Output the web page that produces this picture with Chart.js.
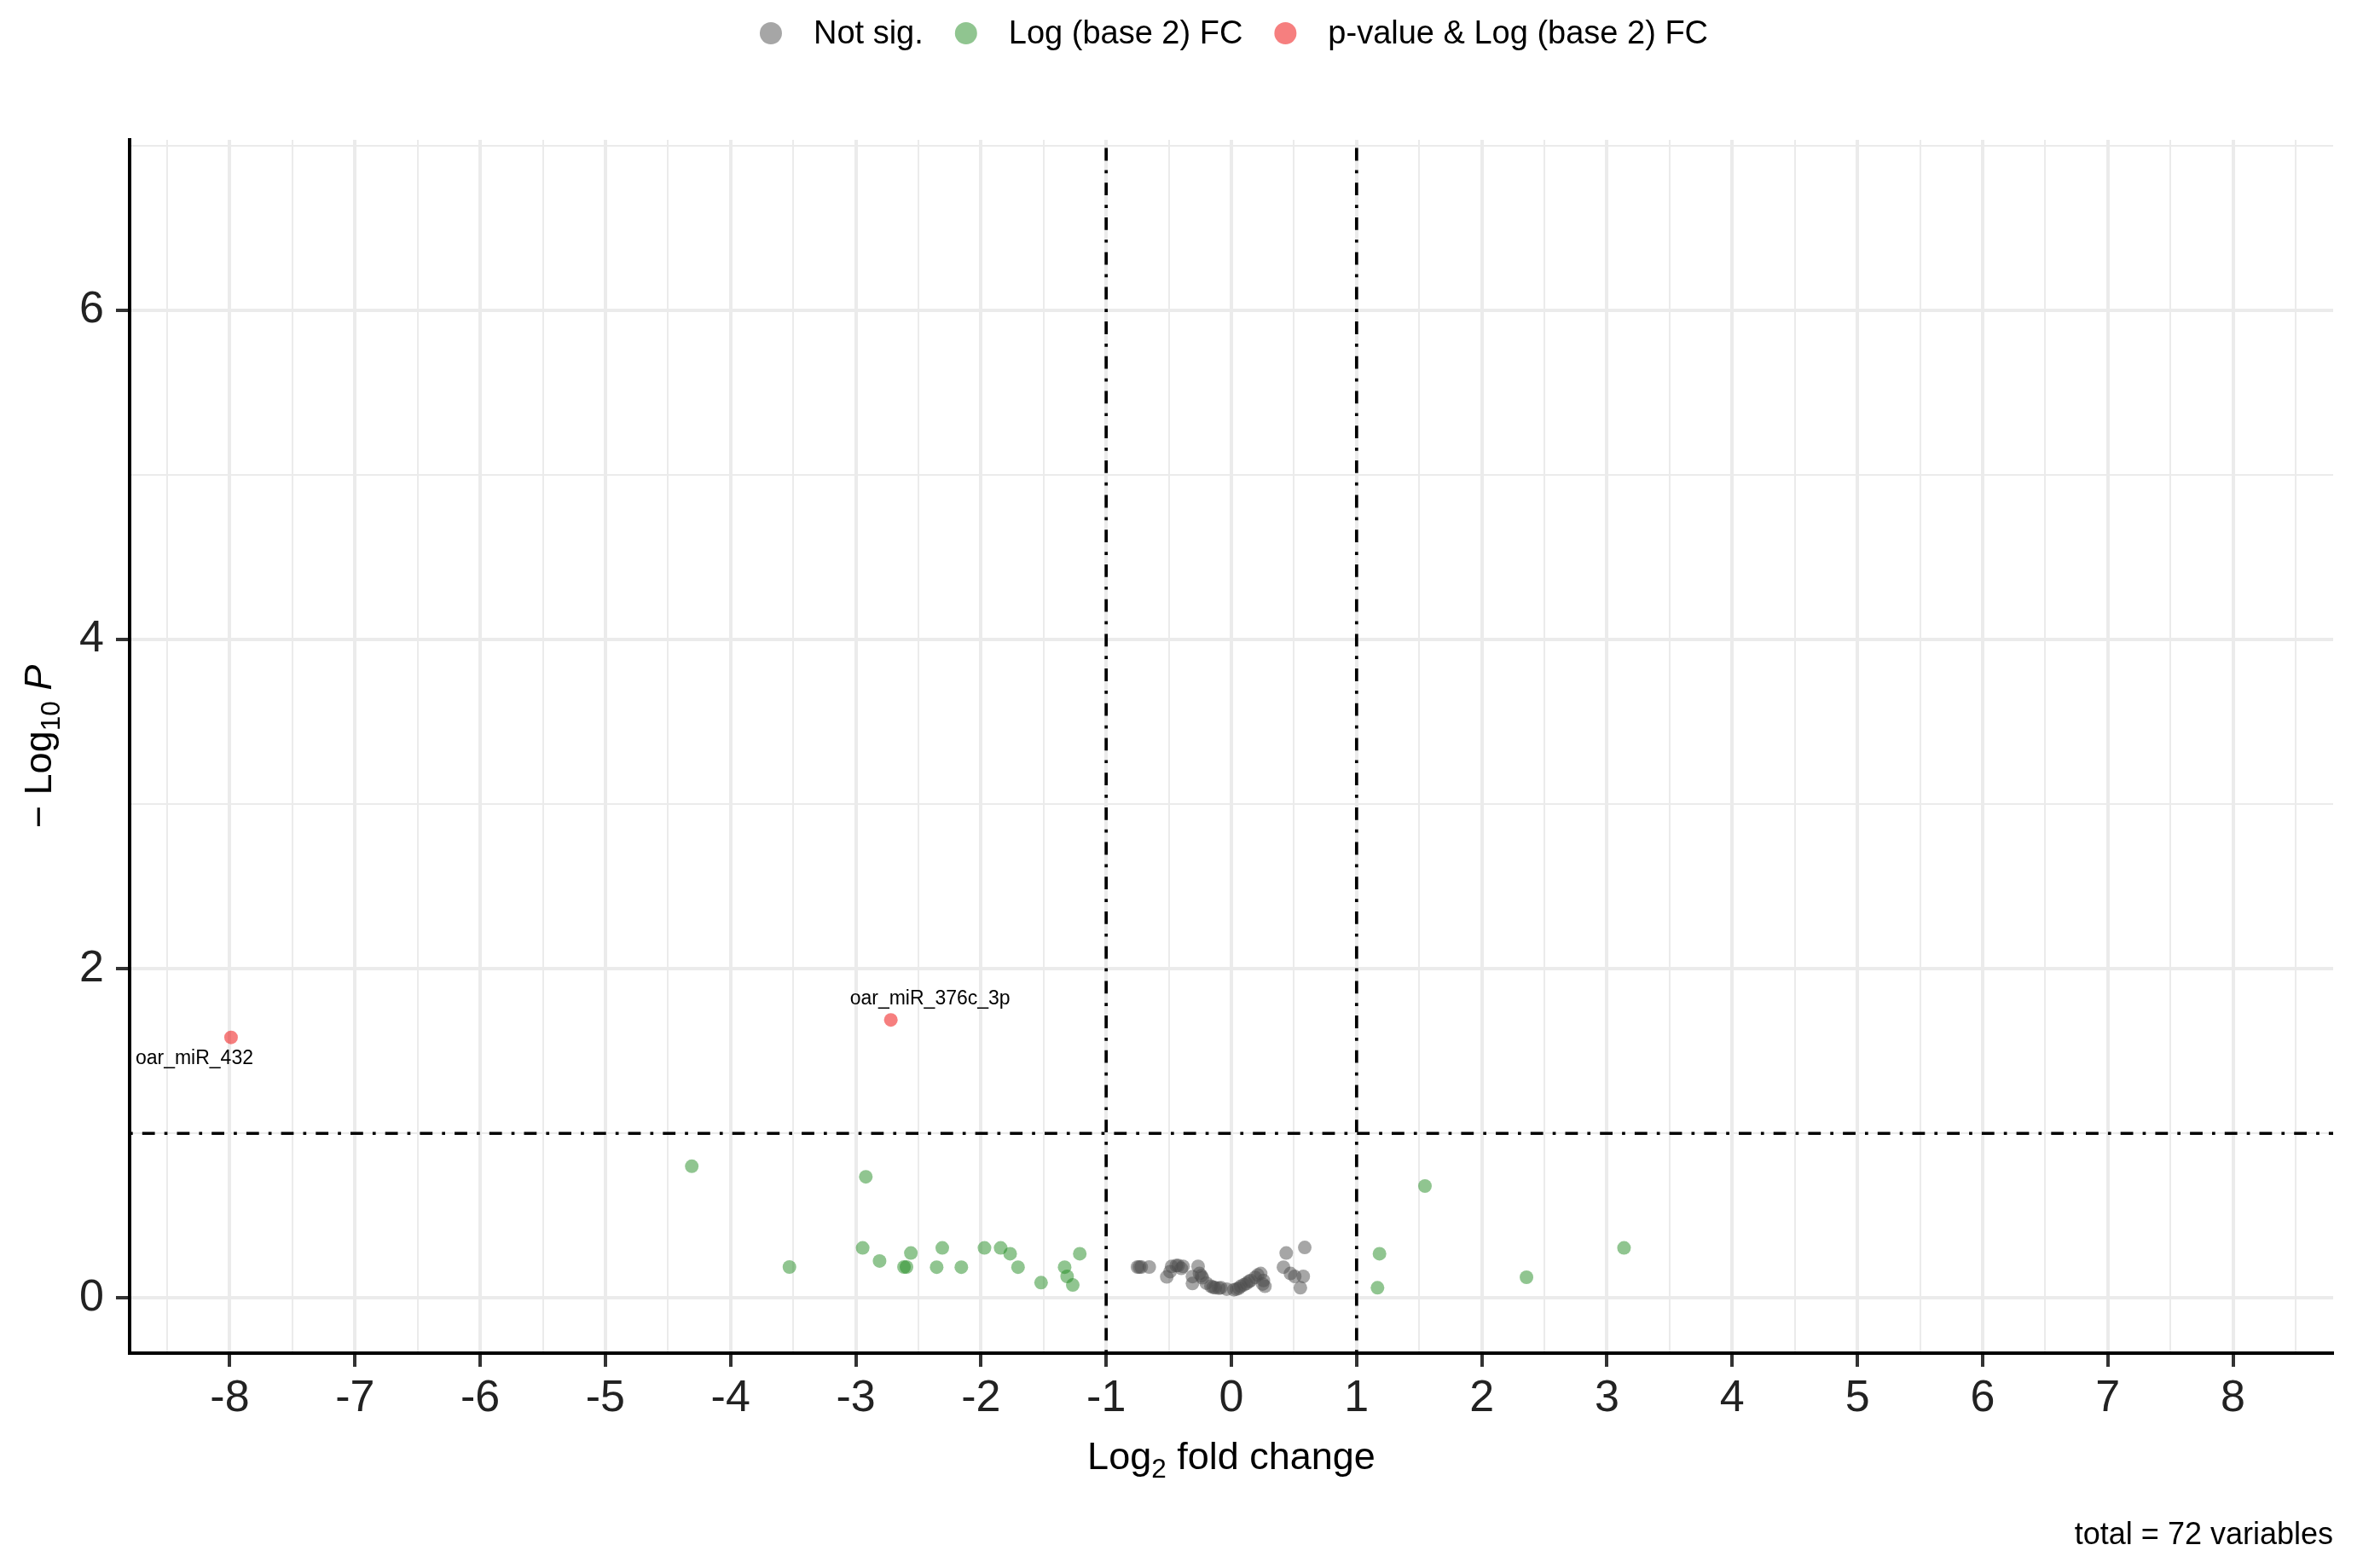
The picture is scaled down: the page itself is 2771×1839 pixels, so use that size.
<!DOCTYPE html>
<html lang="en">
<head>
  <meta charset="UTF-8" />
  <title>Volcano plot</title>
  <script src="https://cdn.jsdelivr.net/npm/chart.js"></script>
  <style>
    html, body { margin: 0; padding: 0; background: #fff; }
    canvas { display: block; }
  </style>
</head>
<body>
  <canvas id="volcano" width="2771" height="1839"></canvas>
  <script>
    // values: log2 fold change (x) and -log10 p (y)
    const notSigX = [-0.750, -0.735, -0.720, -0.656, -0.516, -0.490, -0.477, -0.440, -0.425, -0.386,
                     -0.400, -0.311, -0.311, -0.266, -0.255, -0.240, -0.232, -0.200, -0.163, -0.145,
                     -0.129, -0.100, -0.084, -0.038, 0.020, 0.041, 0.060, 0.075, 0.100, 0.120,
                     0.140, 0.154, 0.190, 0.211, 0.234, 0.256, 0.268, 0.250, 0.438, 0.586,
                     0.416, 0.472, 0.506, 0.574, 0.551];
    const notSigY = [0.188, 0.188, 0.188, 0.188, 0.128, 0.160, 0.192, 0.197, 0.197, 0.192,
                     0.180, 0.088, 0.130, 0.192, 0.149, 0.135, 0.123, 0.090, 0.071, 0.065,
                     0.062, 0.060, 0.062, 0.054, 0.050, 0.054, 0.060, 0.071, 0.080, 0.088,
                     0.100, 0.106, 0.125, 0.140, 0.149, 0.106, 0.071, 0.085, 0.273, 0.307,
                     0.187, 0.149, 0.131, 0.131, 0.062];

    const fcX = [-4.31, -3.53, -2.92, -2.945, -2.81, -2.615, -2.595, -2.56, -2.354, -2.309,
                 -2.157, -1.972, -1.843, -1.767, -1.704, -1.52, -1.332, -1.312, -1.267, -1.211,
                 1.167, 1.183, 1.546, 2.357, 3.136];
    const fcY = [0.80, 0.188, 0.736, 0.304, 0.225, 0.188, 0.188, 0.273, 0.187, 0.304,
                 0.187, 0.304, 0.304, 0.269, 0.187, 0.093, 0.187, 0.131, 0.079, 0.269,
                 0.062, 0.269, 0.68, 0.126, 0.304];

    const sigX = [-7.99, -2.72];
    const sigY = [1.583, 1.689];
    const sigLabels = ['oar_miR_432', 'oar_miR_376c_3p'];

    const seriesNames = ['Not sig.', 'Log (base 2) FC', 'p-value & Log (base 2) FC'];
    const seriesColors = ['rgba(77,77,77,0.5)', 'rgba(34,139,34,0.5)', 'rgba(238,0,0,0.5)'];

    const fcCutoff = 1;
    const pCutoff = 1;
    const xLimits = [-8.8, 8.8];
    const yLimits = [-0.335, 7.035];
    const xTickLabels = [-8, -7, -6, -5, -4, -3, -2, -1, 0, 1, 2, 3, 4, 5, 6, 7, 8];
    const yTickLabels = [0, 2, 4, 6];
    const caption = 'total = 72 variables';

    // label offsets from their point (px), x then baseline
    const labelOffsets = [[-43, 31], [46, -18]];

    const FAMILY = '"Liberation Sans", Arial, sans-serif';
    const SIZE = { tick: 52, title: 45, legend: 38, label: 23, caption: 36 };
    const font = (s, style) => (style || '') + ' ' + s + 'px ' + FAMILY;

    // major breaks plus the minor ones half way between them
    function withMinor(major, step, lo, hi) {
      const out = [];
      const first = major[0] - step / 2, last = major[major.length - 1] + step / 2;
      for (let v = first; v <= last + 1e-9; v += step / 2) {
        if (v > lo && v < hi) out.push(Math.round(v * 100) / 100);
      }
      return out;
    }
    const xGrid = withMinor(xTickLabels, 1, xLimits[0], xLimits[1]);
    const yGrid = withMinor(yTickLabels, 2, yLimits[0], yLimits[1]);

    const isOn = (v, list) => list.some(t => Math.abs(t - v) < 1e-6);
    const toPoints = (xs, ys) => xs.map((x, i) => ({ x: x, y: ys[i] }));

    const cutoffLine = {
      type: 'line',
      borderColor: '#000',
      borderWidth: 3.7,
      borderDash: [3.7, 11.1, 14.8, 11.1],
      pointRadius: 0,
      fill: false,
      showLine: true
    };

    const overlay = {
      id: 'overlay',
      afterDraw(chart) {
        const ctx = chart.ctx;
        const area = chart.chartArea;
        const xs = chart.scales.x, ys = chart.scales.y;
        ctx.save();
        ctx.fillStyle = '#000';

        // point labels
        ctx.font = font(SIZE.label);
        ctx.textAlign = 'center';
        ctx.textBaseline = 'alphabetic';
        sigLabels.forEach((lab, i) => {
          const px = xs.getPixelForValue(sigX[i]);
          const py = ys.getPixelForValue(sigY[i]);
          ctx.fillText(lab, px + labelOffsets[i][0], py + labelOffsets[i][1]);
        });

        // legend
        ctx.font = font(SIZE.legend);
        ctx.textAlign = 'left';
        ctx.textBaseline = 'middle';
        const r = 13, toText = 50, toNext = 50;
        const widths = seriesNames.map(n => ctx.measureText(n).width);
        let total = r;
        widths.forEach((w, i) => { total += toText + w + (i ? toNext : 0); });
        let cx = (area.left + area.right) / 2 + 3 - total / 2 + r;
        const ly = 39;
        seriesNames.forEach((name, i) => {
          ctx.fillStyle = seriesColors[i];
          ctx.beginPath();
          ctx.arc(cx, ly, r, 0, Math.PI * 2);
          ctx.fill();
          ctx.fillStyle = '#000';
          ctx.fillText(name, cx + toText, ly + 2);
          cx += toText + widths[i] + toNext;
        });

        // x axis title: Log2 fold change
        const tb = 1723;
        const big = font(SIZE.title), small = font(SIZE.title * 0.7);
        ctx.textBaseline = 'alphabetic';
        ctx.font = big; const wA = ctx.measureText('Log').width;
        ctx.font = small; const wB = ctx.measureText('2').width;
        ctx.font = big; const wC = ctx.measureText(' fold change').width;
        let x0 = (area.left + area.right) / 2 - (wA + wB + wC) / 2;
        ctx.font = big; ctx.fillText('Log', x0, tb);
        ctx.font = small; ctx.fillText('2', x0 + wA, tb + SIZE.title * 0.22);
        ctx.font = big; ctx.fillText(' fold change', x0 + wA + wB, tb);

        // y axis title: -Log10 P
        ctx.save();
        ctx.translate(44, (area.top + area.bottom) / 2);
        ctx.rotate(-Math.PI / 2);
        const italic = font(SIZE.title, 'italic');
        ctx.font = big; const w1 = ctx.measureText('\u2212 Log').width;
        ctx.font = small; const w2 = ctx.measureText('10').width;
        ctx.font = big; const w3 = ctx.measureText(' ').width;
        ctx.font = italic; const w4 = ctx.measureText('P').width;
        const base = SIZE.title * 0.36;
        let yx = -(w1 + w2 + w3 + w4) / 2;
        ctx.font = big; ctx.fillText('\u2212 Log', yx, base);
        ctx.font = small; ctx.fillText('10', yx + w1, base + SIZE.title * 0.22);
        ctx.font = italic; ctx.fillText('P', yx + w1 + w2 + w3, base);
        ctx.restore();

        // caption
        ctx.font = font(SIZE.caption);
        ctx.textAlign = 'right';
        ctx.fillText(caption, area.right, 1811);
        ctx.restore();
      }
    };

    const chart = new Chart(document.getElementById('volcano').getContext('2d'), {
      type: 'scatter',
      data: {
        datasets: [
          Object.assign({ data: [{ x: -fcCutoff, y: yLimits[0] }, { x: -fcCutoff, y: yLimits[1] }] }, cutoffLine),
          Object.assign({ data: [{ x: fcCutoff, y: yLimits[0] }, { x: fcCutoff, y: yLimits[1] }] }, cutoffLine),
          Object.assign({ data: [{ x: xLimits[0], y: pCutoff }, { x: xLimits[1], y: pCutoff }] }, cutoffLine),
          { label: seriesNames[2], data: toPoints(sigX, sigY), backgroundColor: seriesColors[2],
            borderWidth: 0, pointRadius: 8 },
          { label: seriesNames[1], data: toPoints(fcX, fcY), backgroundColor: seriesColors[1],
            borderWidth: 0, pointRadius: 8 },
          { label: seriesNames[0], data: toPoints(notSigX, notSigY), backgroundColor: seriesColors[0],
            borderWidth: 0, pointRadius: 8 }
        ]
      },
      options: {
        responsive: false,
        animation: false,
        devicePixelRatio: 1,
        layout: { padding: { top: 164, right: 35, left: 0, bottom: 0 } },
        plugins: { legend: { display: false }, tooltip: { enabled: false } },
        scales: {
          x: {
            type: 'linear',
            min: xLimits[0], max: xLimits[1],
            bounds: 'data',
            afterBuildTicks: s => { s.ticks = xGrid.map(v => ({ value: v })); },
            afterFit: s => { s.height = 252; },
            border: { display: true, color: '#000', width: 4 },
            grid: {
              color: '#EBEBEB',
              lineWidth: c => isOn(c.tick.value, xTickLabels) ? 4 : 2,
              tickColor: c => isOn(c.tick.value, xTickLabels) ? '#333' : 'rgba(0,0,0,0)',
              tickWidth: 4,
              tickLength: 16
            },
            ticks: {
              autoSkip: false,
              maxRotation: 0,
              padding: 6,
              color: '#222',
              font: { family: FAMILY, size: SIZE.tick },
              callback: v => isOn(v, xTickLabels) ? String(Math.round(v)) : ''
            }
          },
          y: {
            type: 'linear',
            min: yLimits[0], max: yLimits[1],
            bounds: 'data',
            afterBuildTicks: s => { s.ticks = yGrid.map(v => ({ value: v })); },
            afterFit: s => { s.width = 152; },
            border: { display: true, color: '#000', width: 4 },
            grid: {
              color: '#EBEBEB',
              lineWidth: c => isOn(c.tick.value, yTickLabels) ? 4 : 2,
              tickColor: c => isOn(c.tick.value, yTickLabels) ? '#333' : 'rgba(0,0,0,0)',
              tickWidth: 4,
              tickLength: 16
            },
            ticks: {
              autoSkip: false,
              padding: 14,
              color: '#222',
              font: { family: FAMILY, size: SIZE.tick },
              callback: v => isOn(v, yTickLabels) ? String(Math.round(v)) : ''
            }
          }
        }
      },
      plugins: [overlay]
    });
  </script>
</body>
</html>
